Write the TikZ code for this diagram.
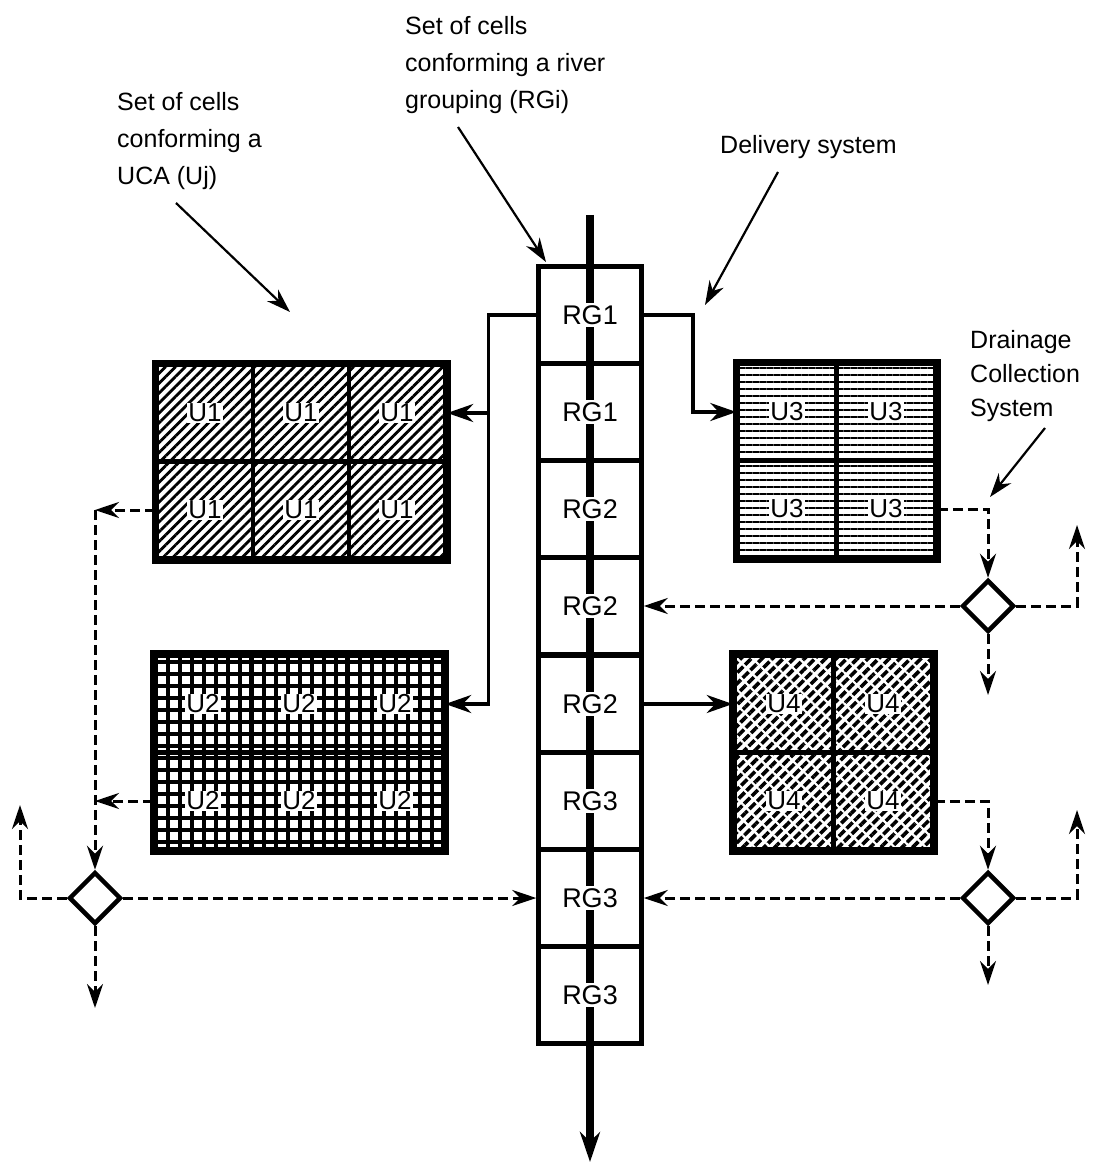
\documentclass[tikz,border=0pt]{standalone}
\usepackage{fontspec}
\setmainfont{Liberation Sans}
\usetikzlibrary{arrows.meta,patterns.meta,shapes.geometric}

\begin{document}
\begin{tikzpicture}[x=1pt,y=-1pt,
  rgcell/.style={draw,line width=4.5pt,minimum width=103pt,minimum height=97.25pt,
                 inner sep=0pt,label={[rgtag]center:#1}},
  rgtag/.style={fill=white,inner sep=2pt,font=\fontsize{27}{30}\selectfont},
  ucell/.style={draw,line width=4.5pt,minimum width=96pt,minimum height=97pt,
                inner sep=0pt,label={[utag]center:#1}},
  utag/.style={fill=white,inner sep=1pt,font=\fontsize{26}{30}\selectfont},
  uone/.style={ucell=U1,pattern={Lines[angle=45,distance=7pt,line width=2.8pt]}},
  utwo/.style={ucell=U2,pattern={Hatch[angle=0,distance=12pt,line width=3.8pt]}},
  uthree/.style={ucell=U3,minimum width=99pt,pattern={Lines[angle=0,distance=7pt,line width=2.4pt]}},
  ufour/.style={ucell=U4,minimum width=99pt,pattern={Lines[angle=45,distance=7.5pt,line width=3.6pt]},
                postaction={pattern={Lines[angle=-45,distance=11pt,line width=2.2pt]},pattern color=white},
                postaction={draw}},
  frame/.style={line width=6.5pt},
  junction/.style={diamond,draw,line width=4.5pt,minimum size=52pt,inner sep=0pt,fill=white},
  feed/.style={line width=3.5pt,-{Stealth[length=26pt,width=18pt]}},
  drain/.style={line width=3pt,dash pattern=on 10pt off 5pt,-{Stealth[length=24pt,width=16pt]}},
  note/.style={align=left,anchor=north west,inner sep=0pt,font=\fontsize{25}{37}\selectfont},
  pointer/.style={line width=2.2pt,-{Stealth[length=24pt,width=16pt]}}
]
\useasboundingbox (0,0) rectangle (1094,1166);

% river grouping column
\coordinate (rtop) at (590,215);
\coordinate (rend) at (590,1162);
\draw[line width=8pt,-{Stealth[length=30pt,width=20pt]}] (rtop) -- (rend);
\node[rgcell=RG1] (rg1) at (590,315) {};
\node[rgcell=RG1] (rg2) at (590,412) {};
\node[rgcell=RG2] (rg3) at (590,509) {};
\node[rgcell=RG2] (rg4) at (590,606) {};
\node[rgcell=RG2] (rg5) at (590,704) {};
\node[rgcell=RG3] (rg6) at (590,801) {};
\node[rgcell=RG3] (rg7) at (590,898) {};
\node[rgcell=RG3] (rg8) at (590,995) {};

% UCA cell sets
\node[uone] (u111) at (205,413) {};
\node[uone] (u112) at (301,413) {};
\node[uone] (u113) at (397,413) {};
\node[uone] (u121) at (205,510) {};
\node[uone] (u122) at (301,510) {};
\node[uone] (u123) at (397,510) {};
\draw[frame] (u111.north west) rectangle (u123.south east);

\node[utwo] (u211) at (203,704) {};
\node[utwo] (u212) at (299,704) {};
\node[utwo] (u213) at (395,704) {};
\node[utwo] (u221) at (203,801) {};
\node[utwo] (u222) at (299,801) {};
\node[utwo] (u223) at (395,801) {};
\draw[frame] (u211.north west) rectangle (u223.south east);

\node[uthree] (u311) at (787,412) {};
\node[uthree] (u312) at (886,412) {};
\node[uthree] (u321) at (787,509) {};
\node[uthree] (u322) at (886,509) {};
\draw[frame] (u311.north west) rectangle (u322.south east);

\node[ufour] (u411) at (784,704) {};
\node[ufour] (u412) at (883,704) {};
\node[ufour] (u421) at (784,801) {};
\node[ufour] (u422) at (883,801) {};
\draw[frame] (u411.north west) rectangle (u422.south east);

% delivery system
\draw[feed] (rg1.west) -- ++(-48,0) coordinate (dl) |- (u213.east);
\draw[feed] (dl |- u113.east) -- (u113.east);
\draw[feed] (rg1.east) -- ++(49,0) |- (u311.west);
\draw[feed] (rg5.east) -- (u411.west);

% drainage collection
\node[junction] (ld)  at (95,898) {};
\node[junction] (rd1) at (988,606) {};
\node[junction] (rd2) at (988,898) {};
\coordinate (lup)  at (20,805);
\coordinate (ldn)  at (95,1008);
\coordinate (rup1) at (1077,525);
\coordinate (rdn1) at (988,695);
\coordinate (rup2) at (1077,810);
\coordinate (rdn2) at (988,985);

\draw[drain] (u121.west) -- (u121.west -| ld);
\draw[drain] (u221.west) -- (u221.west -| ld);
\draw[drain] (u121.west -| ld) -- (ld.north);
\draw[drain] (ld.east) -- (rg7.west);
\draw[drain] (ld.west) -| (lup);
\draw[drain] (ld.south) -- (ldn);

\draw[drain] (u322.east) -| (rd1.north);
\draw[drain] (rd1.west) -- (rg4.east);
\draw[drain] (rd1.east) -| (rup1);
\draw[drain] (rd1.south) -- (rdn1);

\draw[drain] (u422.east) -| (rd2.north);
\draw[drain] (rd2.west) -- (rg7.east);
\draw[drain] (rd2.east) -| (rup2);
\draw[drain] (rd2.south) -- (rdn2);

% annotations
\node[note] (tuca) at (117,92) {Set of cells\\conforming a\\UCA (Uj)};
\node[note] (triv) at (405,16) {Set of cells\\conforming a river\\grouping (RGi)};
\node[note] (tdel) at (720,135) {Delivery system};
\node[note,font=\fontsize{25}{34}\selectfont] (tdrn) at (970,330) {Drainage\\Collection\\System};
\draw[pointer] (176,203) -- (290,312);
\draw[pointer] (458,127) -- (546,262);
\draw[pointer] (778,172) -- (705,305);
\draw[pointer] (1045,428) -- (990,497);
\end{tikzpicture}
\end{document}
